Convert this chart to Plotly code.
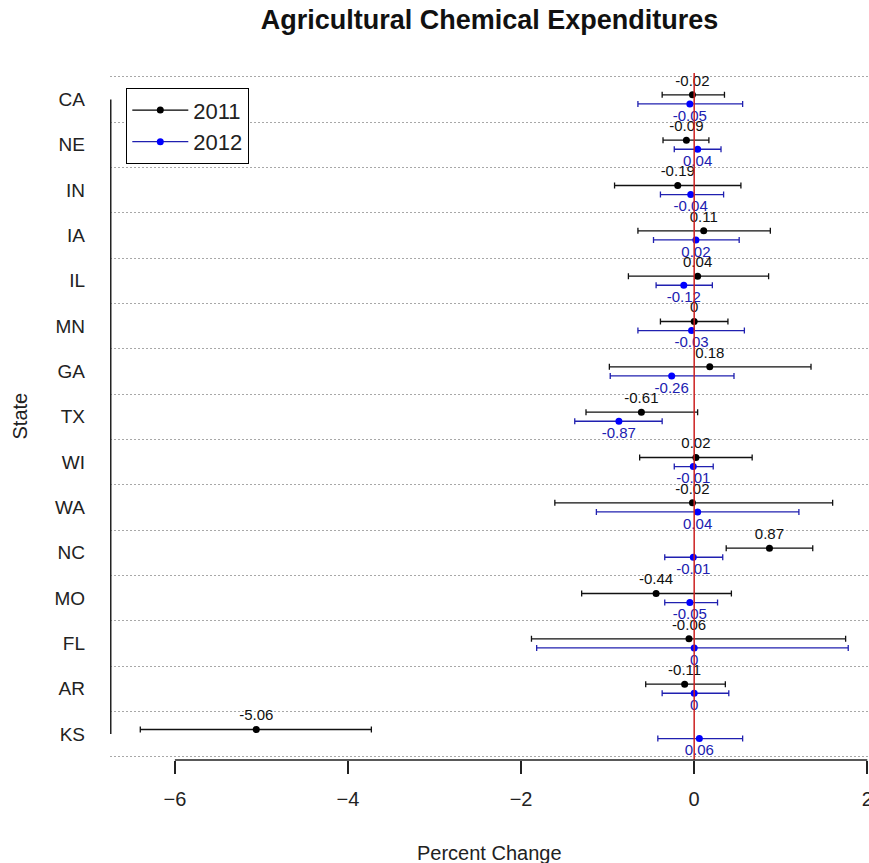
import plotly.graph_objects as go

# ---- data ----
states = ["CA", "NE", "IN", "IA", "IL", "MN", "GA", "TX", "WI", "WA", "NC", "MO", "FL", "AR", "KS"]
v2011 = [-0.02, -0.09, -0.19, 0.11, 0.04, 0, 0.18, -0.61, 0.02, -0.02, 0.87, -0.44, -0.06, -0.11, -5.06]
v2012 = [-0.05, 0.04, -0.04, 0.02, -0.12, -0.03, -0.26, -0.87, -0.01, 0.04, -0.01, -0.05, 0, 0, 0.06]
lo2011 = [-0.37, -0.36, -0.92, -0.65, -0.76, -0.39, -0.98, -1.25, -0.63, -1.61, 0.37, -1.30, -1.88, -0.56, -6.40]
hi2011 = [0.35, 0.17, 0.54, 0.88, 0.86, 0.39, 1.35, 0.04, 0.67, 1.60, 1.37, 0.43, 1.75, 0.36, -3.73]
lo2012 = [-0.65, -0.23, -0.39, -0.47, -0.44, -0.65, -0.97, -1.38, -0.23, -1.13, -0.34, -0.34, -1.82, -0.37, -0.42]
hi2012 = [0.56, 0.31, 0.34, 0.52, 0.21, 0.58, 0.46, -0.37, 0.22, 1.21, 0.33, 0.27, 1.78, 0.40, 0.56]
xticks = [-6, -4, -2, 0, 2]
series_names = ["2011", "2012"]

FONT = "Liberation Sans, Arial, sans-serif"
BLACK = "#000000"
BLUE = "#0000ff"
BLUE_DARK = "#2020b0"

n = len(states)
pos = [n - 1 - i for i in range(n)]
y2011 = [p + 0.1 for p in pos]
y2012 = [p - 0.1 for p in pos]

fig = go.Figure()

fig.add_trace(go.Scatter(
    x=v2011, y=y2011, mode="markers+text",
    text=[f"{v:g}" for v in v2011], textposition="top center",
    textfont=dict(family=FONT, size=15, color="#111111"),
    marker=dict(color=BLACK, size=7),
    error_x=dict(type="data", symmetric=False,
                 array=[h - v for h, v in zip(hi2011, v2011)],
                 arrayminus=[v - l for v, l in zip(v2011, lo2011)],
                 color="#111111", thickness=1.3, width=3),
    showlegend=False, cliponaxis=False,
))
fig.add_trace(go.Scatter(
    x=v2012, y=y2012, mode="markers+text",
    text=[f"{v:g}" for v in v2012], textposition="bottom center",
    textfont=dict(family=FONT, size=15, color=BLUE_DARK),
    marker=dict(color=BLUE, size=7),
    error_x=dict(type="data", symmetric=False,
                 array=[h - v for h, v in zip(hi2012, v2012)],
                 arrayminus=[v - l for v, l in zip(v2012, lo2012)],
                 color=BLUE_DARK, thickness=1.3, width=3),
    showlegend=False, cliponaxis=False,
))
# legend entries
fig.add_trace(go.Scatter(x=[None], y=[None], mode="lines+markers", name=series_names[0],
                         line=dict(color=BLACK, width=1.3), marker=dict(color=BLACK, size=7)))
fig.add_trace(go.Scatter(x=[None], y=[None], mode="lines+markers", name=series_names[1],
                         line=dict(color=BLUE_DARK, width=1.3), marker=dict(color=BLUE, size=7)))

shapes = [
    # red reference line at zero
    dict(type="line", xref="x", yref="paper", x0=0, x1=0, y0=0, y1=1,
         line=dict(color="#cc2020", width=1.5), layer="above"),
    # x axis line from first to last tick
    dict(type="line", xref="x", yref="paper", x0=xticks[0], x1=xticks[-1], y0=0, y1=0,
         line=dict(color="#222222", width=1.5)),
    # y axis line from first to last category
    dict(type="line", xref="paper", yref="y", x0=0.001, x1=0.001, y0=min(pos), y1=max(pos),
         line=dict(color="#222222", width=1.5)),
]

fig.update_layout(
    width=869, height=863,
    margin=dict(l=110, r=0, t=73, b=103, pad=0, autoexpand=False),
    paper_bgcolor="white", plot_bgcolor="white",
    font=dict(family=FONT, color="#222222"),
    title=dict(text="<b>Agricultural Chemical Expenditures</b>",
               font=dict(family=FONT, size=27, color="#111111"),
               x=0.5, xref="paper", xanchor="center",
               y=1 - 20 / 863, yref="container", yanchor="middle"),
    xaxis=dict(range=[-6.75, 2.02], tickvals=xticks, ticks="outside", ticklen=13,
               tickwidth=1.5, tickcolor="#222222", showgrid=False, zeroline=False,
               showline=False, ticklabeloverflow="allow", automargin=False,
               tickfont=dict(family=FONT, size=20, color="#222222"),
               ticklabelstandoff=8),
    yaxis=dict(range=[-0.573, 14.582], tickvals=pos, ticktext=states, ticks="",
               showgrid=False, zeroline=False, showline=False, automargin=False,
               tickfont=dict(family=FONT, size=19, color="#222222"),
               ticklabelstandoff=24,
               minor=dict(tickvals=[p - 0.5 for p in range(n + 1)], showgrid=True,
                          gridcolor="#a8a8a8", griddash="2px,2px", gridwidth=1, ticks="")),
    legend=dict(x=16 / 759, y=1 - 15 / 687, xanchor="left", yanchor="top",
                bordercolor="#000000", borderwidth=1.3, bgcolor="white",
                font=dict(family=FONT, size=22, color="#222222"),
                itemwidth=56, tracegroupgap=0),
    shapes=shapes,
    annotations=[
        dict(text="Percent Change", xref="paper", yref="paper", x=0.5, y=-(853 - 760) / 687,
             xanchor="center", yanchor="middle", showarrow=False,
             font=dict(family=FONT, size=20, color="#222222")),
        dict(text="State", xref="paper", yref="paper", x=-(110 - 19) / 759, y=0.5,
             xanchor="center", yanchor="middle", textangle=-90, showarrow=False,
             font=dict(family=FONT, size=20, color="#222222")),
    ],
)

fig.write_html("out.html", config={"displayModeBar": False},
               post_script="document.body.style.margin='0';document.body.style.overflow='hidden';")
